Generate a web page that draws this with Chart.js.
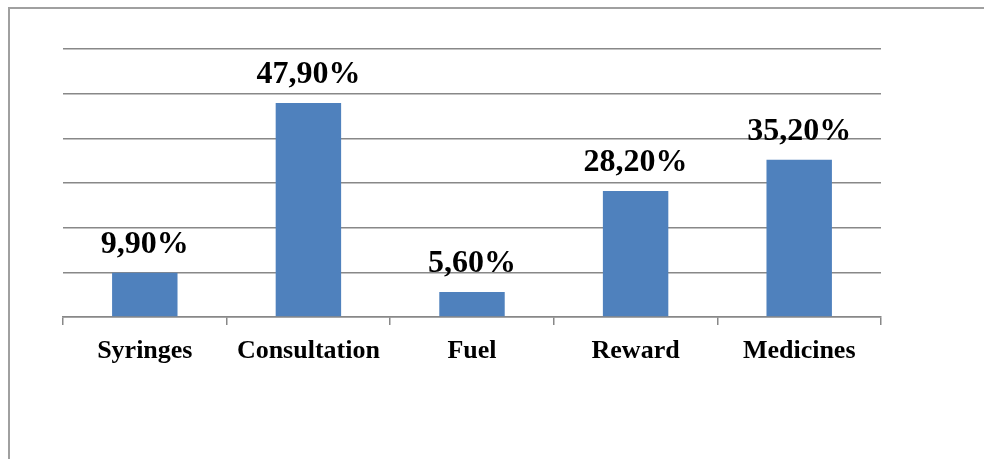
<!DOCTYPE html>
<html>
<head>
<meta charset="utf-8">
<script src="https://cdn.jsdelivr.net/npm/chart.js@4"></script>
<style>
  html, body { margin: 0; padding: 0; background: #fff; }
  #wrap { position: relative; width: 993px; height: 459px; }
</style>
</head>
<body>
<div id="wrap"><canvas id="c" width="993" height="459"></canvas></div>
<script>
const categories = ["Syringes", "Consultation", "Fuel", "Reward", "Medicines"];
const values = [9.9, 47.9, 5.6, 28.2, 35.2];
const valueLabels = ["9,90%", "47,90%", "5,60%", "28,20%", "35,20%"];
const yMin = 0, yMax = 60, yStep = 10;

const framePlugin = {
  id: 'frame',
  beforeDraw(chart) {
    const ctx = chart.ctx;
    ctx.save();
    ctx.strokeStyle = '#a0a0a0';
    ctx.lineWidth = 2;
    ctx.beginPath();
    ctx.moveTo(9, 459);
    ctx.lineTo(9, 8);
    ctx.lineTo(984, 8);
    ctx.stroke();
    ctx.restore();
  }
};

const valueLabelPlugin = {
  id: 'valueLabels',
  afterDatasetsDraw(chart) {
    const ctx = chart.ctx;
    const meta = chart.getDatasetMeta(0);
    ctx.save();
    ctx.font = 'bold 32px "Liberation Serif", "Times New Roman", serif';
    ctx.fillStyle = '#000';
    ctx.textAlign = 'center';
    ctx.textBaseline = 'alphabetic';
    meta.data.forEach((bar, i) => {
      ctx.fillText(valueLabels[i], bar.x, bar.y - 20);
    });
    ctx.restore();
  }
};

new Chart(document.getElementById('c'), {
  type: 'bar',
  data: {
    labels: categories,
    datasets: [{
      data: values,
      backgroundColor: '#4F81BD',
      borderWidth: 0,
      barPercentage: 0.4,
      categoryPercentage: 1.0
    }]
  },
  options: {
    responsive: false,
    animation: false,
    layout: { padding: { left: 63, right: 112, top: 49, bottom: 0 } },
    plugins: { legend: { display: false }, tooltip: { enabled: false } },
    scales: {
      x: {
        grid: { display: true, drawOnChartArea: false, drawTicks: true, tickLength: 8, color: '#888', lineWidth: 1.5, offset: true },
        border: { display: true, color: '#888', width: 1.5 },
        ticks: {
          color: '#000',
          padding: 11,
          maxRotation: 0,
          font: { family: '"Liberation Serif", "Times New Roman", serif', size: 26, weight: 'bold' }
        },
        afterFit(scale) { scale.height = 142; }
      },
      y: {
        min: yMin, max: yMax,
        ticks: { stepSize: yStep, display: false },
        grid: { color: '#888', lineWidth: 1.5, drawTicks: false },
        border: { display: false },
        afterFit(scale) { scale.width = 0; }
      }
    }
  },
  plugins: [framePlugin, valueLabelPlugin]
});
</script>
</body>
</html>
